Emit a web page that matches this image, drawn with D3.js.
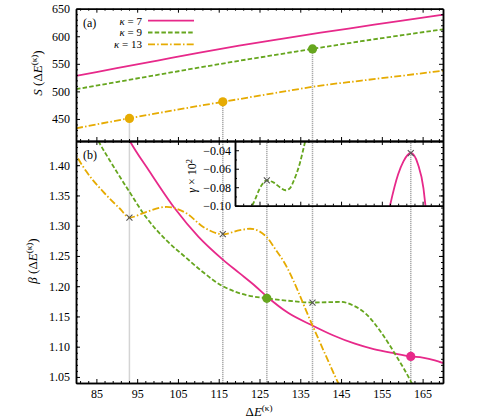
<!DOCTYPE html>
<html lang="en">
<head>
  <meta charset="utf-8">
  <title>S, beta and gamma against Delta E</title>
  <script src="https://d3js.org/d3.v7.min.js"></script>
  <style>
    body { margin: 0; background: #fff; }
    text { font-family: "Liberation Serif", "DejaVu Serif", serif; }
  </style>
</head>
<body>
  <svg class="chart" width="480" height="418"></svg>
  <script>
    // legend / series names
    var kappas = ["7", "9", "13"];
    var colors = ["#e7298a", "#66a61e", "#e6ab02"];
    var dashes = [null, "4.5,2.2", "7,2.2,1.5,2.2"];
    var serif = "Liberation Serif, DejaVu Serif, serif";

    // (a) S(dE), all three on the same grid
    var sE  = [80, 90, 100, 110, 120, 130, 140, 150, 160, 170];
    var s7  = [528, 542, 556, 570, 583, 595, 606.5, 617.5, 628.5, 639];
    var s9  = [504, 517, 530, 543, 555.5, 567.5, 579.5, 591, 602, 612.5];
    var s13 = [433, 447, 460.5, 473.5, 486, 498.5, 510.5, 519.5, 528.5, 537.5];

    // (b) beta(dE)
    var b7E  = [92, 93.2, 98, 104.3, 110, 116, 120, 124, 126.8, 132, 138, 143, 148.4, 153, 158, 162.1, 165, 168, 170];
    var b7   = [1.455, 1.44, 1.39, 1.328, 1.282, 1.244, 1.222, 1.200, 1.183, 1.156, 1.135, 1.119, 1.105, 1.096, 1.089, 1.084, 1.082, 1.0775, 1.073];
    var b9E  = [84, 85.5, 89, 93.1, 97.3, 102, 107, 111, 116, 119, 122, 126.8, 132, 138, 145, 148, 151, 155, 158.6, 162.3, 163];
    var b9   = [1.46, 1.44, 1.40, 1.356, 1.313, 1.277, 1.247, 1.224, 1.200, 1.191, 1.185, 1.180, 1.176, 1.173, 1.174, 1.168, 1.155, 1.122, 1.084, 1.04, 1.03];
    var b13E = [79, 80, 82.6, 86.7, 90.8, 93.1, 97.3, 102.2, 107.2, 111.2, 116, 120.2, 122.7, 126.8, 128.8, 131, 138, 144.3, 145];
    var b13  = [1.43, 1.417, 1.389, 1.356, 1.328, 1.3135, 1.323, 1.331, 1.320, 1.298, 1.286, 1.2926, 1.295, 1.281, 1.262, 1.240, 1.135, 1.04, 1.03];

    // inset: gamma x 10^2
    var g7E = [156.6, 157.0, 159.0, 160.3, 162.1, 163.9, 165.2, 165.7, 166.0];
    var g7  = [-0.108, -0.100, -0.066, -0.052, -0.043, -0.0556, -0.081, -0.100, -0.11];
    var g9E = [122.5, 123.9, 125.1, 126.8, 128.5, 130, 131.4, 132.5, 133.3, 134.9, 136.2, 136.5];
    var g9  = [-0.106, -0.0935, -0.081, -0.0727, -0.075, -0.080, -0.0833, -0.081, -0.074, -0.054, -0.0304, -0.025];

    // marked energies, and the S value the guide line starts from (null = panel b only)
    var markE = [93.1, 116, 126.8, 138, 162.1];
    var markS = [451, 481, null, 577, null];
    var dotsS = [{e: 93.1, v: 451, k: 2}, {e: 116, v: 481, k: 2}, {e: 138, v: 577, k: 1}];
    var dotsB = [{e: 126.8, v: 1.180, k: 1}, {e: 162.1, v: 1.084, k: 0}];
    var crossB = [{e: 93.1, v: 1.3135}, {e: 116, v: 1.286}, {e: 138, v: 1.173}];
    var crossG = [{e: 126.8, v: -0.0727}, {e: 162.1, v: -0.043}];

    var xMajor = d3.range(85, 170, 10);
    var xMinor = d3.range(81, 170, 2).filter(function(d) { return xMajor.indexOf(d) < 0; });

    var left = 76, right = 443, topA = 8.7, mid = 141, bottom = 383;
    var inL = 235, inB = 205.7;

    var x = d3.scaleLinear().domain([80, 170]).range([left, right]);
    var yS = d3.scaleLinear().domain([410, 650]).range([mid, topA]);
    var yB = d3.scaleLinear().domain([1.04, 1.44]).range([bottom, mid]);
    var yG = d3.scaleLinear().domain([-0.10, -0.03]).range([inB, mid]);

    var svg = d3.select("svg.chart");
    var defs = svg.append("defs");
    function clip(id, x0, y0, x1, y1) {
      defs.append("clipPath").attr("id", id).append("rect")
          .attr("x", x0).attr("y", y0).attr("width", x1 - x0).attr("height", y1 - y0);
    }
    clip("ca", left, topA, right, mid);
    clip("cb", left, mid, right, bottom);
    clip("ci", inL, mid, right, inB);

    // guide lines
    svg.append("g").selectAll("line")
       .data(markE)
       .enter().append("line")
       .attr("x1", function(d) { return x(d); })
       .attr("x2", function(d) { return x(d); })
       .attr("y1", function(d, i) { return markS[i] === null ? mid : yS(markS[i]); })
       .attr("y2", bottom)
       .attr("stroke", "#aaa")
       .attr("stroke-width", 1.5)
       .attr("stroke-dasharray", "1.2,0.8");

    function curve(g, xs, ys, vy, k) {
      var pts = xs.map(function(d, i) { return [d, vy[i]]; });
      var line = d3.line().curve(d3.curveMonotoneX)
                   .x(function(d) { return x(d[0]); })
                   .y(function(d) { return ys(d[1]); });
      g.append("path")
       .datum(pts)
       .attr("d", line)
       .attr("fill", "none")
       .attr("stroke", colors[k])
       .attr("stroke-width", 1.8)
       .attr("stroke-dasharray", dashes[k]);
    }

    var ga = svg.append("g").attr("clip-path", "url(#ca)");
    curve(ga, sE, yS, s7, 0);
    curve(ga, sE, yS, s9, 1);
    curve(ga, sE, yS, s13, 2);

    var gb = svg.append("g").attr("clip-path", "url(#cb)");
    curve(gb, b7E, yB, b7, 0);
    curve(gb, b9E, yB, b9, 1);
    curve(gb, b13E, yB, b13, 2);

    var gi = svg.append("g").attr("clip-path", "url(#ci)");
    curve(gi, g7E, yG, g7, 0);
    curve(gi, g9E, yG, g9, 1);

    function dots(data, ys) {
      svg.append("g").selectAll("circle")
         .data(data)
         .enter().append("circle")
         .attr("cx", function(d) { return x(d.e); })
         .attr("cy", function(d) { return ys(d.v); })
         .attr("r", 4.6)
         .attr("fill", function(d) { return colors[d.k]; });
    }
    dots(dotsS, yS);
    dots(dotsB, yB);

    function crosses(data, ys) {
      svg.append("g").selectAll("path")
         .data(data)
         .enter().append("path")
         .attr("transform", function(d) { return "translate(" + x(d.e) + "," + ys(d.v) + ")"; })
         .attr("d", "M-3,-3L3,3M-3,3L3,-3")
         .attr("stroke", "#555")
         .attr("stroke-width", 1.1)
         .attr("fill", "none");
    }
    crosses(crossB, yB);
    crosses(crossG, yG);

    // frames with inward ticks on every side
    function style(g) {
      g.attr("font-family", serif).attr("font-size", 12);
      g.selectAll(".domain").attr("stroke", "#000").attr("stroke-width", 1.5);
      g.selectAll(".tick line").attr("stroke", "#000").attr("stroke-width", 1);
      g.selectAll(".tick text").attr("fill", "#000");
    }
    function side(tr, axis) {
      style(svg.append("g").attr("transform", tr).call(axis));
    }
    function frame(ys, y0, y1, yMaj, yMin, fmt, xLabels) {
      var tl = "translate(" + left + ",0)", tr = "translate(" + right + ",0)";
      side(tl, d3.axisLeft(ys).tickValues(yMaj).tickSize(-4).tickSizeOuter(0).tickPadding(6).tickFormat(fmt));
      side(tl, d3.axisLeft(ys).tickValues(yMin).tickSize(-2).tickSizeOuter(0).tickFormat(""));
      side(tr, d3.axisRight(ys).tickValues(yMaj).tickSize(-4).tickSizeOuter(0).tickFormat(""));
      side(tr, d3.axisRight(ys).tickValues(yMin).tickSize(-2).tickSizeOuter(0).tickFormat(""));
      side("translate(0," + y0 + ")", d3.axisTop(x).tickValues(xMajor).tickSize(-4).tickSizeOuter(0).tickFormat(""));
      side("translate(0," + y0 + ")", d3.axisTop(x).tickValues(xMinor).tickSize(-2).tickSizeOuter(0).tickFormat(""));
      side("translate(0," + y1 + ")", d3.axisBottom(x).tickValues(xMajor).tickSize(-4).tickSizeOuter(0).tickPadding(6)
                                        .tickFormat(xLabels ? d3.format("d") : ""));
      side("translate(0," + y1 + ")", d3.axisBottom(x).tickValues(xMinor).tickSize(-2).tickSizeOuter(0).tickFormat(""));
    }
    frame(yS, topA, mid, d3.range(450, 651, 50), d3.range(420, 650, 10).filter(function(d) { return d % 50; }),
          d3.format("d"), false);
    frame(yB, mid, bottom, d3.range(1.05, 1.41, 0.05).map(function(d) { return +d.toFixed(2); }),
          d3.range(1.04, 1.44, 0.01).map(function(d) { return +d.toFixed(2); }),
          d3.format(".2f"), true);

    // inset frame
    var xi = d3.scaleLinear().domain([x.invert(inL), 170]).range([inL, right]);
    var ti = "translate(" + inL + ",0)", tb = "translate(0," + inB + ")";
    side(ti, d3.axisLeft(yG).tickValues([-0.10, -0.08, -0.06, -0.04]).tickSize(-4).tickSizeOuter(0)
               .tickPadding(4).tickFormat(d3.format(".2f")));
    side(ti, d3.axisLeft(yG).tickValues([-0.09, -0.07, -0.05, -0.03]).tickSize(-2).tickSizeOuter(0).tickFormat(""));
    side(tb, d3.axisBottom(xi).tickValues(xMajor.filter(function(d) { return d > 120; })).tickSize(-4).tickSizeOuter(0).tickFormat(""));
    side(tb, d3.axisBottom(xi).tickValues(xMinor.filter(function(d) { return d > 120; })).tickSize(-2).tickSizeOuter(0).tickFormat(""));

    // axis titles
    function mathLabel(t, parts, fs) {
      t.attr("font-family", serif);
      parts.forEach(function(p) {
        var s = t.append("tspan").text(p[0]);
        if (p[1] === "i") s.attr("font-style", "italic");
        if (p[1] === "sup") s.attr("font-size", fs * 0.7).attr("dy", -fs * 0.35);
        if (p[1] === "down") s.attr("dy", fs * 0.35);
      });
    }
    var t;
    t = svg.append("text").attr("transform", "translate(42,73) rotate(-90)")
           .attr("text-anchor", "middle").attr("font-size", 13);
    mathLabel(t, [["S", "i"], [" (Δ"], ["E", "i"], ["(κ)", "sup"], [")", "down"]], 13);
    t = svg.append("text").attr("transform", "translate(37,261) rotate(-90)")
           .attr("text-anchor", "middle").attr("font-size", 13);
    mathLabel(t, [["β", "i"], [" (Δ"], ["E", "i"], ["(κ)", "sup"], [")", "down"]], 13);
    t = svg.append("text").attr("transform", "translate(259,416)")
           .attr("text-anchor", "middle").attr("font-size", 13);
    mathLabel(t, [["Δ"], ["E", "i"], ["(κ)", "sup"]], 13);
    t = svg.append("text").attr("transform", "translate(196,176) rotate(-90)")
           .attr("text-anchor", "middle").attr("font-size", 12);
    mathLabel(t, [["γ", "i"], [" × 10"], ["2", "sup"]], 12);

    svg.append("text").attr("x", 83).attr("y", 27).attr("font-family", serif).attr("font-size", 12).text("(a)");
    svg.append("text").attr("x", 83).attr("y", 159).attr("font-family", serif).attr("font-size", 12).text("(b)");

    // legend
    var leg = svg.append("g").selectAll("g")
                 .data(kappas)
                 .enter().append("g")
                 .attr("transform", function(d, i) { return "translate(0," + (20.7 + i * 11.8) + ")"; });
    leg.append("text")
       .attr("x", 142).attr("y", 3.8).attr("text-anchor", "end")
       .attr("font-family", serif).attr("font-size", 11)
       .each(function(d) {
         var s = d3.select(this);
         s.append("tspan").attr("font-style", "italic").text("κ");
         s.append("tspan").text(" = " + d);
       });
    leg.append("line")
       .attr("x1", 148).attr("x2", 194)
       .attr("stroke", function(d, i) { return colors[i]; })
       .attr("stroke-width", 1.8)
       .attr("stroke-dasharray", function(d, i) { return dashes[i]; });
  </script>
</body>
</html>
